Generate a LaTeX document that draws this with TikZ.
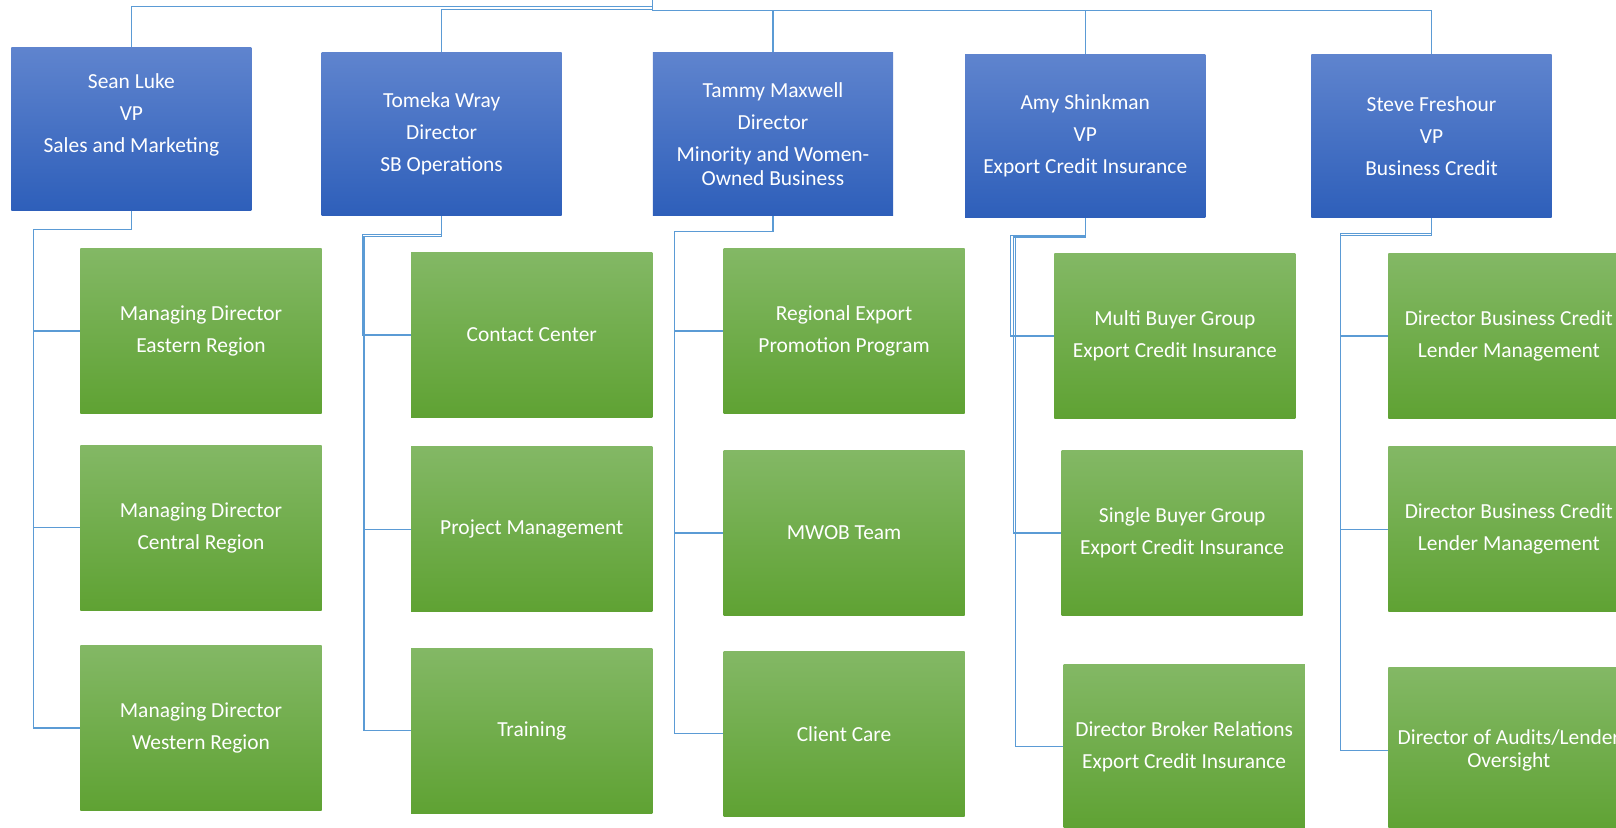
\documentclass[tikz,border=0pt]{standalone}
\usepackage{fontspec}
\setmainfont{Carlito}
\usetikzlibrary{calc}
\definecolor{bluetop}{HTML}{5F84CE}
\definecolor{bluebot}{HTML}{2E5FBA}
\definecolor{greentop}{HTML}{83B865}
\definecolor{greenbot}{HTML}{5FA233}
\definecolor{conn}{HTML}{5B9BD5}
\tikzset{
  bluebox/.style={rectangle, inner sep=0pt, minimum width=116.5pt, minimum height=79pt,
    top color=bluetop, bottom color=bluebot, text=white, align=center,
    font=\fontsize{10.4}{15.5}\selectfont},
  greenbox/.style={rectangle, inner sep=0pt, minimum width=117pt, minimum height=80pt,
    top color=greentop, bottom color=greenbot, text=white, align=center,
    font=\fontsize{10.4}{15.5}\selectfont},
  link/.style={draw=conn, line width=0.65pt},
}
\begin{document}
\begin{tikzpicture}[x=0.5pt, y=-0.5pt]
\useasboundingbox (0,0) rectangle (1568,803);
\clip (0,0) rectangle (1568,803);
\coordinate (root) at (633,0);
% top level
\node[bluebox] (sean)   at (127.5,125) {Sean Luke\\VP\\Sales and Marketing\\\mbox{}};
\node[bluebox] (tomeka) at (428.5,130) {Tomeka Wray\\Director\\SB Operations};
\node[bluebox] (tammy)  at (750,130)   {Tammy Maxwell\\Director\\Minority and Women-\\[-4pt]Owned Business};
\node[bluebox] (amy)    at (1053,132)  {Amy Shinkman\\VP\\Export Credit Insurance};
\node[bluebox] (steve)  at (1389,132)  {Steve Freshour\\VP\\Business Credit};
% column 1
\node[greenbox] (a1) at (195,321)   {Managing Director\\Eastern Region};
\node[greenbox] (a2) at (195,512)   {Managing Director\\Central Region};
\node[greenbox] (a3) at (195,706.5) {Managing Director\\Western Region};
% column 2
\node[greenbox] (b1) at (516,325)   {Contact Center};
\node[greenbox] (b2) at (516,513.5) {Project Management};
\node[greenbox] (b3) at (516,709)   {Training};
% column 3
\node[greenbox] (c1) at (819,321) {Regional Export\\Promotion Program};
\node[greenbox] (c2) at (819,517) {MWOB Team};
\node[greenbox] (c3) at (819,712) {Client Care};
% column 4
\node[greenbox] (d1) at (1140,326)   {Multi Buyer Group\\Export Credit Insurance};
\node[greenbox] (d2) at (1147,517)   {Single Buyer Group\\Export Credit Insurance};
\node[greenbox] (d3) at (1149,724.5) {Director Broker Relations\\Export Credit Insurance};
% column 5
\node[greenbox] (e1) at (1464,326)   {Director Business Credit\\Lender Management};
\node[greenbox] (e2) at (1464,513.5) {Director Business Credit\\Lender Management};
\node[greenbox] (e3) at (1464,728)   {Director of Audits/Lender\\[-4.5pt]Oversight};
% connectors top
\draw[link] (root) -- ++(0,6.5) -| (sean.north);
\draw[link] (root) -- ++(0,9.5) -| (tomeka.north);
\draw[link] (root) -- ++(0,10) -| (tammy.north);
\draw[link] (root) -- ++(0,10) -| (amy.north);
\draw[link] (root) -- ++(0,10) -| (steve.north);
% column 1 connectors
\foreach \c in {a1,a2,a3}
  \draw[link] (sean.south) -- ++(0,18) -| ($(\c.west)+(-45,0)$) -- (\c.west);
% column 2 connectors
\draw[link] (tomeka.south) -- ++(0,18) -| ($(b1.west)+(-47,0)$) -- (b1.west);
\draw[link] (tomeka.south) -- ++(0,20) -| ($(b2.west)+(-45.5,0)$) -- (b2.west);
\draw[link] (tomeka.south) -- ++(0,20) -| ($(b3.west)+(-45.5,0)$) -- (b3.west);
% column 3 connectors
\foreach \c in {c1,c2,c3}
  \draw[link] (tammy.south) -- ++(0,15) -| ($(\c.west)+(-47,0)$) -- (\c.west);
% column 4 connectors
\draw[link] (amy.south) -- ++(0,17) -| ($(d1.west)+(-42,0)$) -- (d1.west);
\draw[link] (amy.south) -- ++(0,18.5) -| ($(d2.west)+(-46.5,0)$) -- (d2.west);
\draw[link] (amy.south) -- ++(0,18.5) -| ($(d3.west)+(-46,0)$) -- (d3.west);
% column 5 connectors
\draw[link] (steve.south) -- ++(0,15) -| ($(e1.west)+(-46,0)$) -- (e1.west);
\draw[link] (steve.south) -- ++(0,17) -| ($(e2.west)+(-46,0)$) -- (e2.west);
\draw[link] (steve.south) -- ++(0,17) -| ($(e3.west)+(-46,0)$) -- (e3.west);
\end{tikzpicture}
\end{document}
